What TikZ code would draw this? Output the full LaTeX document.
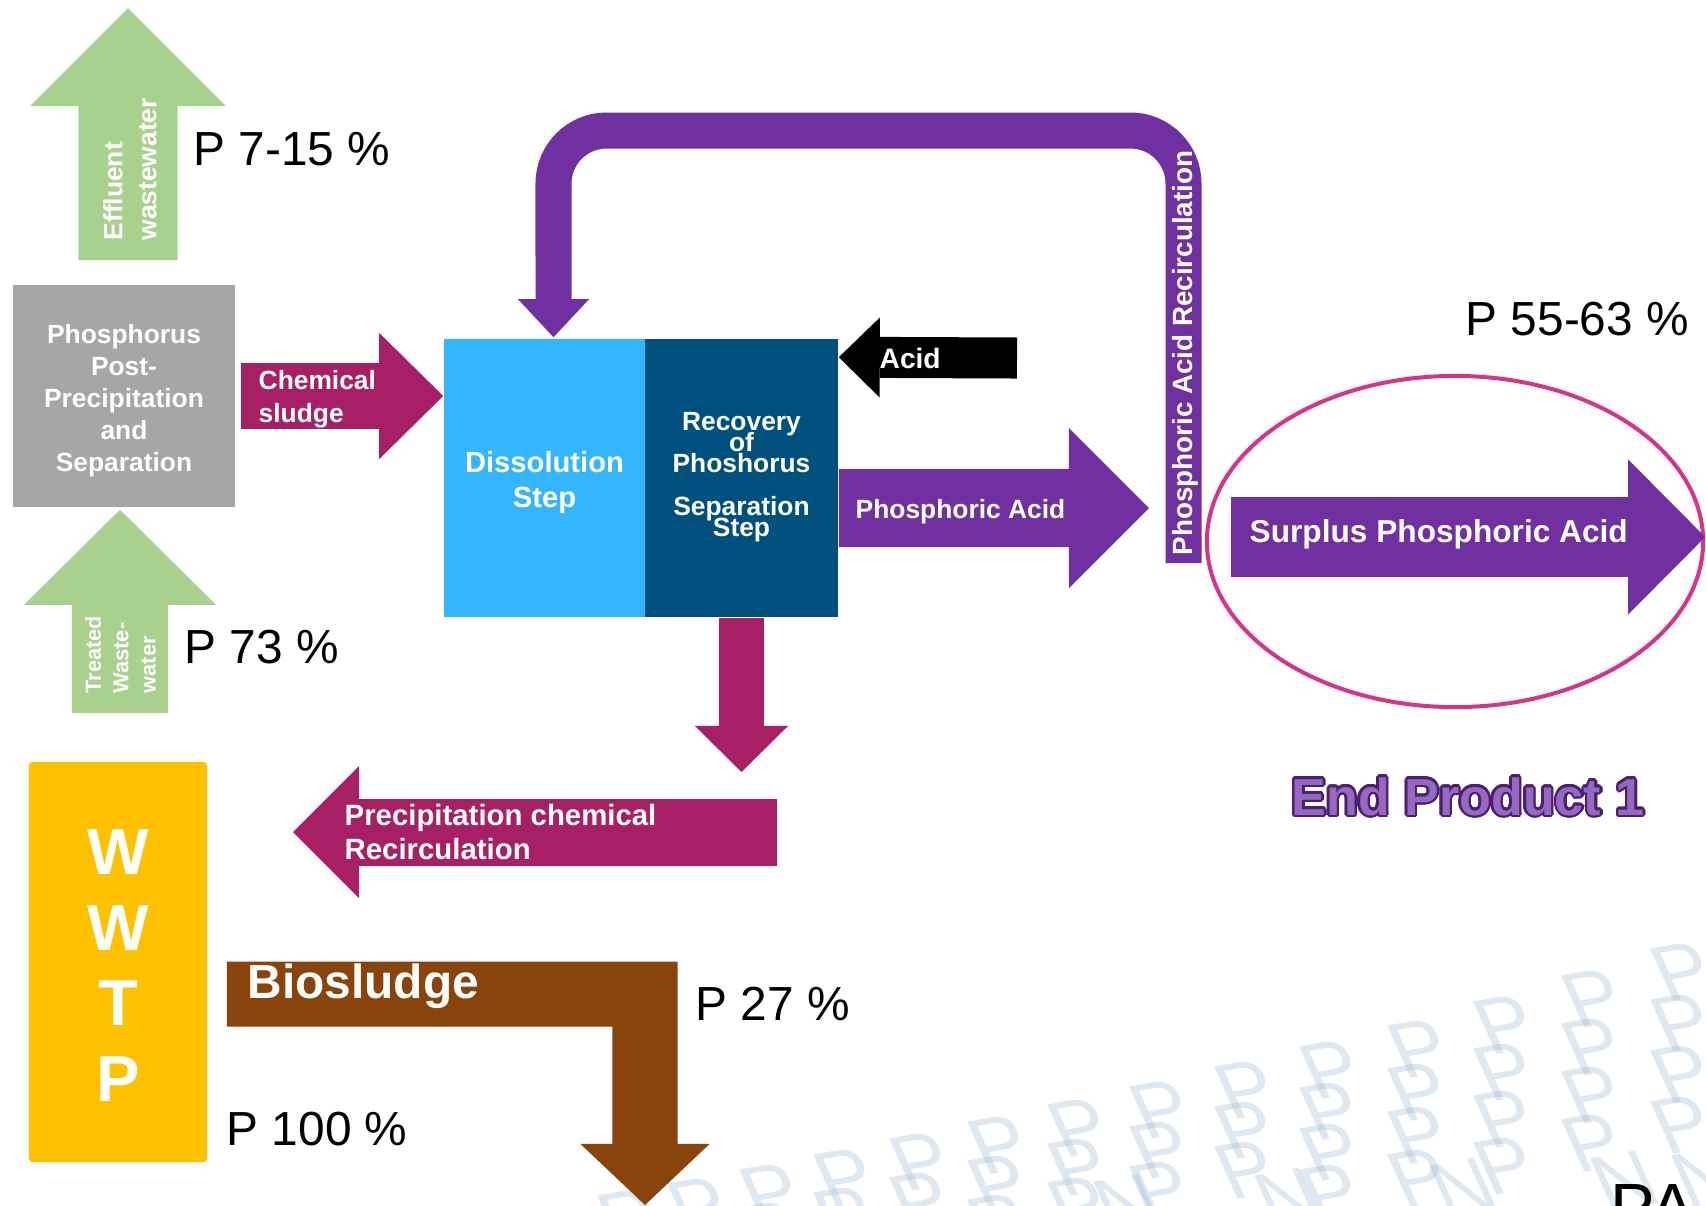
\documentclass[tikz,border=0pt]{standalone}
\usepackage{fontspec}
\setmainfont{Liberation Sans}
\usepackage[copies]{contour}
\usetikzlibrary{arrows.meta,shapes.geometric}

\definecolor{leaf}{RGB}{169,209,142}
\definecolor{stone}{RGB}{166,166,166}
\definecolor{berry}{RGB}{167,31,101}
\definecolor{sky}{RGB}{51,181,255}
\definecolor{deepsea}{RGB}{0,80,125}
\definecolor{plum}{RGB}{112,48,160}
\definecolor{rose}{RGB}{214,51,137}
\definecolor{amber}{RGB}{255,192,0}
\definecolor{bark}{RGB}{136,68,10}
\definecolor{mist}{RGB}{150,180,205}
\definecolor{lilac}{RGB}{150,105,192}
\definecolor{grape}{RGB}{75,30,110}

\begin{document}
\begin{tikzpicture}[x=0.01cm, y=-0.01cm,
    box/.style = {rectangle, inner sep=0, minimum height=2.78cm},
    lbl/.style = {inner sep=0, text=white, font=\bfseries\fontsize{7.5}{9.1}\selectfont},
    pct/.style = {inner sep=0, anchor=base west, font=\fontsize{13.6}{16}\selectfont},
    flow/.style n args = {4}{draw=#1, line width=#2, line cap=butt, -{Triangle[length=#3, width=#4, line width=0pt]}},
    ghost/.style = {inner sep=0, anchor=north west, text=mist, opacity=.3, font=\fontsize{23}{23}\selectfont, rotate=10, xslant=-.25}]

  \useasboundingbox (0,0) rectangle (1706,1205);

  % faint lettering in the lower right corner
  \begin{scope}
    \clip (0,0) rectangle (1706,1205);
    \foreach \px/\py/\dy/\cnt in {590/1197/38/0, 660/1185/38/0, 732/1171/38/1, 806/1156/38/1,
        882/1140/39/1, 960/1123/39/2, 1040/1106/39/2, 1122/1088/40/2, 1207/1068/40/2,
        1292/1048/41/3, 1380/1027/43/3, 1466/1003/47/3, 1554/977/48/3, 1643/950/51/3}{
      \foreach \k in {0,...,\cnt}
        \node[ghost] (wm-\px-\k) at (\px,\py+\k*\dy) {P};
    }
    \foreach \px/\py in {1086/1183, 1247/1177, 1422/1167, 1583/1160, 1664/1157}
      \node[ghost] (wn-\px) at (\px,\py) {N};
    \node[inner sep=0, anchor=base west, font=\fontsize{19}{19}\selectfont] (pa) at (1610,1230) {PA};
  \end{scope}

  % boxes
  \node[box, fill=stone, minimum width=2.22cm, minimum height=2.22cm] (sep) at (124,396) {};
  \node[lbl, align=center] (septxt) at ([yshift=-0.044cm]sep.center)
        {Phosphorus\\Post-\\Precipitation\\and\\Separation};
  \node[box, fill=sky, minimum width=2.01cm] (diss) at (544.5,478) {};
  \node[lbl, align=center, font=\bfseries\fontsize{8.3}{10.2}\selectfont] (disstxt)
        at ([yshift=-0.044cm]diss.center) {Dissolution\\Step};
  \node[box, fill=deepsea, minimum width=1.93cm] (rec) at (741.5,478) {};
  \node[lbl, align=center, font=\bfseries\fontsize{7.5}{9}\selectfont]
        (rectxt) at ([yshift=0.01cm]rec.center)
        {Recovery\\[-3pt]of\\[-3pt]Phoshorus\\[3.2pt]Separation\\[-3pt]Step};
  \node[box, fill=amber, rounded corners=1pt, minimum width=1.78cm, minimum height=4cm] (wwtp) at (118,962) {};
  \node[lbl, align=center, font=\bfseries\fontsize{18.5}{21.5}\selectfont] (wwtptxt)
        at ([yshift=-0.035cm]wwtp.center) {W\\W\\T\\P};
  \node[ellipse, draw=rose, line width=0.04cm, minimum width=4.96cm, minimum height=3.31cm,
        inner sep=0] (prod) at (1455,541.5) {};

  % flows
  \coordinate (effl) at (128,8);
  \draw[flow={leaf}{0.99cm}{0.98cm}{1.96cm}] ([xshift=0.04cm, yshift=0.24cm]sep.north) -- (effl);
  \node[lbl, rotate=90, anchor=west, align=left, font=\bfseries\fontsize{7.5}{9.7}\selectfont]
        (efftxt) at (130,241) {Effluent\\wastewater};

  \coordinate (trin) at (120,713);
  \draw[flow={leaf}{0.96cm}{0.95cm}{1.92cm}] (trin) -- ([xshift=-0.04cm, yshift=-0.02cm]sep.south);
  \node[lbl, rotate=90, anchor=west, align=left, font=\bfseries\fontsize{6.2}{7.8}\selectfont]
        (trtxt) at (120.5,694) {Treated\\Waste-\\water};

  \draw[flow={berry}{0.65cm}{0.64cm}{1.26cm}] ([xshift=0.05cm]sep.east) -- (diss.west |- sep.east);
  \node[lbl, anchor=west, align=left, font=\bfseries\fontsize{7.5}{9.4}\selectfont]
        (chemtxt) at (258,399) {Chemical\\sludge};

  \coordinate (acin) at (1017,358);
  \draw[flow={black}{0.41cm}{0.41cm}{0.80cm}] (acin) -- ([yshift=-0.19cm]rec.north east);
  \node[lbl, anchor=west, font=\bfseries\fontsize{8}{9.6}\selectfont] (acidtxt) at (879,358) {Acid};

  \coordinate (phout) at (1149,508);
  \draw[flow={plum}{0.78cm}{0.80cm}{1.60cm}] ([yshift=-0.30cm]rec.east) -- (phout);
  \node[lbl, anchor=west] (phtxt) at (855,511.5) {Phosphoric Acid};

  \coordinate (recin) at (1183.5,563);
  \draw[flow={plum}{0.36cm}{0.38cm}{0.71cm}, rounded corners=0.53cm]
        (recin) -- (1183.5,130.5) -- (553.5,130.5) -- ([xshift=0.09cm, yshift=0.01cm]diss.north);
  \node[lbl, rotate=90, anchor=west, font=\bfseries\fontsize{7.9}{9.5}\selectfont] (recirctxt)
        at (1185,556) {Phosphoric Acid Recirculation};

  \coordinate (dnout) at (741.5,772);
  \draw[flow={berry}{0.45cm}{0.46cm}{0.93cm}] (rec.south) -- (dnout);

  \coordinate (pcin) at (777,832);
  \coordinate (pcout) at (293,832);
  \draw[flow={berry}{0.67cm}{0.66cm}{1.32cm}] (pcin) -- (pcout);
  \node[lbl, anchor=west, align=left, font=\bfseries\fontsize{8.35}{9.7}\selectfont]
        (pctxt) at (344,832) {Precipitation chemical\\Recirculation};

  \coordinate (bsout) at (645,1205);
  \draw[flow={bark}{0.65cm}{0.61cm}{1.29cm}, line join=miter]
        ([xshift=0.19cm, yshift=-0.32cm]wwtp.east) -- (645,994) -- (bsout);
  \node[lbl, anchor=base west, font=\bfseries\fontsize{13.6}{15}\selectfont] (bstxt) at (247,998) {Biosludge};

  \draw[flow={plum}{0.80cm}{0.77cm}{1.55cm}] ([xshift=0.26cm, yshift=0.045cm]prod.west) -- ([yshift=0.045cm]prod.east);
  \node[lbl, anchor=base west, font=\bfseries\fontsize{9}{10}\selectfont] (surtxt) at (1249,542) {Surplus Phosphoric Acid};

  % shares of P
  \node[pct] (p1) at (193,165) {P 7-15 \%};
  \node[pct] (p2) at (184,663) {P 73 \%};
  \node[pct] (p3) at (1465,335) {P 55-63 \%};
  \node[pct] (p4) at (695,1020) {P 27 \%};
  \node[pct] (p5) at (226,1145) {P 100 \%};

  \contourlength{0.7pt}
  \node[inner sep=0, anchor=base west, font=\bfseries\fontsize{14.8}{16}\selectfont] (endp) at (1291,815)
        {\contour{grape}{\textcolor{lilac}{End Product 1}}};
\end{tikzpicture}
\end{document}
